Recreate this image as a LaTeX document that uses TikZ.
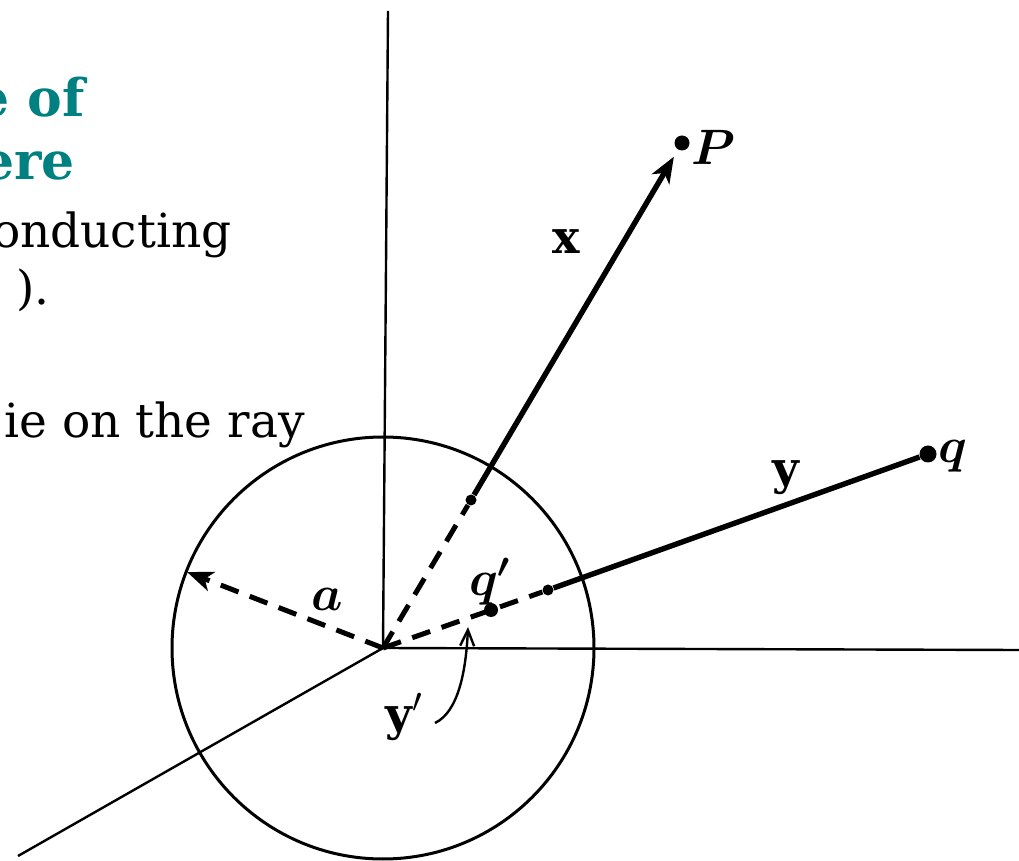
\documentclass[tikz,border=0pt]{standalone}
\usepackage{fontspec}
\setmainfont{DejaVu Serif}
\usetikzlibrary{arrows.meta}
\definecolor{headteal}{RGB}{0,128,128}
\begin{document}
\begin{tikzpicture}[x=0.5pt,y=-0.5pt,
  axis/.style={line width=1.2pt},
  sphere/.style={line width=1.5pt},
  vec/.style={line width=2.7pt},
  dashvec/.style={line width=2.5pt, dash pattern=on 9.5pt off 6pt},
  bigdot/.style={circle,fill,inner sep=0pt,minimum size=7.5pt},
  smalldot/.style={circle,fill,inner sep=0pt,minimum size=5.5pt},
  lbl/.style={font=\fontsize{23}{27}\selectfont\boldmath, inner sep=0pt},
  vlbl/.style={font=\fontsize{23}{27}\selectfont, inner sep=0pt},
  body/.style={font=\fontsize{23.5}{28}\selectfont, inner sep=0pt, anchor=base east},
  head/.style={font=\fontsize{26}{31}\selectfont\bfseries, text=headteal, inner sep=0pt, anchor=base east},
  bigtip/.style={-{Stealth[length=13pt,width=10pt,inset=3.5pt]}}]
\useasboundingbox (0,0) rectangle (1019,861);

% text fragments
\node[head] (h1) at (85,117) {e of};
\node[head] (h2) at (75,180) {ere};
\node[body] (t1) at (232,248) {onducting};
\node[body] (t2) at (50,305) {).};
\node[body] (t3) at (305,438) {ie on the ray};

% axes and sphere
\coordinate (O) at (383,648);
\coordinate (ztop) at (388,11);
\coordinate (yend) at (1019,650);
\coordinate (xend) at (18,856);
\draw[axis] (O) -- (ztop);
\draw[axis] (O) -- (yend);
\draw[axis] (O) -- (xend);
\draw[sphere] (O) circle[radius=211];

% vector x to P
\node[bigdot] (P) at (682,143) {};
\node[smalldot] (xd) at (471,500) {};
\draw[dashvec] (O) -- (xd);
\draw[vec,bigtip,shorten >=4pt] (xd) -- (P);
\node[lbl] (Plbl) at (713,147) {$P$};
\node[vlbl] (xlbl) at (566,242) {$\mathbf{x}$};

% vector y to q
\node[bigdot,minimum size=8.5pt] (q) at (928,454) {};
\node[smalldot] (yd) at (548,590) {};
\node[bigdot,minimum size=7pt] (qp) at (491,610) {};
\draw[dashvec] (O) -- (yd);
\draw[vec] (yd) -- (q);
\node[lbl] (qlbl) at (953,456) {$q$};
\node[vlbl] (ylbl) at (786,478) {$\mathbf{y}$};
\node[lbl] (qplbl) at (490,582) {$q'$};

% radius a
\coordinate (A) at (187,572);
\draw[dashvec,bigtip] (O) -- (A);
\node[lbl] (albl) at (327,599) {$a$};

% y' pointer
\coordinate (ys) at (435,723);
\coordinate (yt) at (468,627);
\draw[line width=1.2pt,-{Straight Barb[length=8pt,width=7pt]}] (ys) .. controls (458,712) and (466,672) .. (yt);
\node[vlbl] (yplbl) at (404,717) {$\mathbf{y}'$};
\end{tikzpicture}
\end{document}
